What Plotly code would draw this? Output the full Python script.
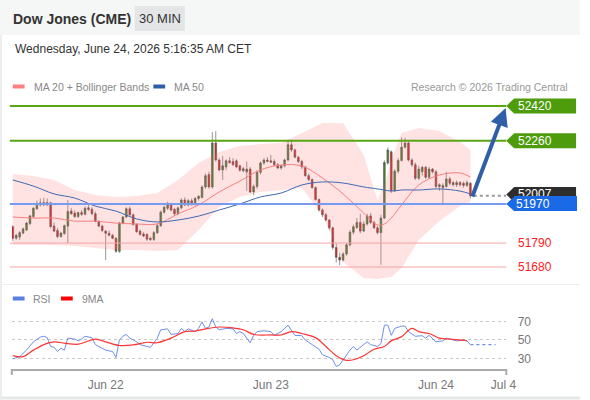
import plotly.graph_objects as go

W, H = 590, 400

# 30 min bars, index 0 = first bar on the left
opens = [51865, 51812, 51818, 51836, 51850, 51880, 51912, 51948, 51965, 51976,
         51966, 51975, 51868, 51848, 51820, 51834, 51868, 51938, 51928, 51912,
         51930, 51922, 51952, 51946, 51925, 51888, 51868, 51845, 51835, 51826,
         51812, 51752, 51882, 51910, 51948, 51920, 51876, 51845, 51832, 51830,
         51812, 51806, 51838, 51870, 51932, 51950, 51968, 51945, 51925, 51952,
         51988, 51965, 51985, 51968, 51995, 52000, 52048, 52105, 52048, 52250,
         52172, 52126, 52140, 52168, 52165, 52168, 52145, 52122, 52117, 52130,
         52025, 52050, 52115, 52158, 52172, 52168, 52165, 52150, 52135, 52145,
         52172, 52242, 52218, 52185, 52165, 52140, 52100, 52082, 52045, 51990,
         51942, 51920, 51896, 51860, 51770, 51725, 51712, 51740, 51782, 51840,
         51862, 51885, 51845, 51878, 51915, 51885, 51860, 51838, 51905, 52158,
         52210, 52030, 52120, 52170, 52230, 52250, 52172, 52150, 52088, 52118,
         52138, 52092, 52130, 52118, 52050, 52045, 52050, 52085, 52068, 52058,
         52068, 52065, 52055, 52065]
highs = [51872, 51832, 51845, 51862, 51888, 51920, 51956, 51985, 51995, 51998,
         51995, 51980, 51885, 51860, 51842, 51875, 51988, 51952, 51940, 51935,
         51942, 51958, 51968, 51955, 51935, 51895, 51875, 51850, 51848, 51832,
         51818, 51888, 51915, 51955, 51958, 51925, 51880, 51852, 51840, 51836,
         51820, 51845, 51880, 51940, 51962, 51980, 51975, 51952, 51958, 51995,
         52000, 51992, 51995, 52002, 52010, 52055, 52110, 52118, 52300, 52305,
         52180, 52190, 52175, 52185, 52180, 52175, 52150, 52140, 52165, 52140,
         52060, 52125, 52165, 52180, 52185, 52195, 52175, 52158, 52150, 52178,
         52262, 52265, 52225, 52190, 52172, 52145, 52110, 52088, 52050, 51995,
         51950, 51928, 51900, 51865, 51790, 51745, 51748, 51790, 51850, 51875,
         51905, 51925, 51890, 51925, 51928, 51892, 51868, 51920, 52170, 52230,
         52215, 52130, 52180, 52275, 52273, 52258, 52180, 52160, 52145, 52145,
         52145, 52140, 52135, 52125, 52065, 52065, 52118, 52095, 52075, 52078,
         52075, 52072, 52078, 52070]
lows = [51800, 51805, 51805, 51830, 51845, 51872, 51905, 51942, 51958, 51960,
        51960, 51858, 51840, 51812, 51815, 51828, 51790, 51920, 51905, 51905,
        51915, 51918, 51938, 51918, 51885, 51862, 51840, 51712, 51820, 51808,
        51745, 51745, 51876, 51905, 51915, 51870, 51838, 51825, 51818, 51800,
        51800, 51800, 51832, 51865, 51925, 51942, 51935, 51915, 51918, 51945,
        51960, 51958, 51962, 51962, 51985, 51995, 52040, 52040, 52040, 52165,
        52120, 52080, 52125, 52155, 52145, 52135, 52118, 52115, 52030, 52020,
        52010, 52040, 52105, 52150, 52160, 52160, 52145, 52130, 52128, 52138,
        52165, 52210, 52180, 52158, 52130, 52095, 52075, 52040, 51985, 51935,
        51910, 51890, 51850, 51760, 51700, 51688, 51705, 51732, 51775, 51830,
        51855, 51835, 51840, 51870, 51878, 51855, 51830, 51690, 51900, 52150,
        52020, 52025, 52110, 52165, 52225, 52165, 52140, 52080, 52080, 52100,
        52085, 52085, 52110, 52042, 52030, 51970, 52045, 52055, 52050, 52048,
        52050, 52045, 52048, 51995]
closes = [51812, 51826, 51838, 51855, 51882, 51915, 51950, 51972, 51975, 51966,
          51976, 51866, 51845, 51820, 51836, 51870, 51935, 51925, 51912, 51930,
          51922, 51950, 51945, 51925, 51890, 51868, 51848, 51835, 51826, 51812,
          51752, 51882, 51910, 51948, 51920, 51875, 51842, 51830, 51822, 51808,
          51806, 51838, 51870, 51932, 51955, 51970, 51942, 51925, 51952, 51988,
          51965, 51985, 51968, 51995, 52005, 52048, 52100, 52048, 52250, 52172,
          52126, 52145, 52168, 52160, 52150, 52140, 52125, 52132, 52130, 52025,
          52050, 52115, 52158, 52172, 52166, 52162, 52150, 52135, 52145, 52172,
          52242, 52218, 52185, 52165, 52140, 52100, 52082, 52045, 51990, 51942,
          51920, 51896, 51860, 51770, 51725, 51712, 51740, 51782, 51840, 51865,
          51885, 51845, 51878, 51915, 51885, 51860, 51838, 51905, 52160, 52218,
          52030, 52120, 52170, 52230, 52250, 52172, 52150, 52088, 52130, 52138,
          52092, 52130, 52118, 52050, 52058, 52055, 52085, 52065, 52058, 52068,
          52058, 52055, 52068, 52007]

# overlays at these bar indices
ma_idx = [0, 6, 12, 18, 24, 30, 36, 42, 48, 54, 60, 66, 72, 78, 84, 90, 96, 102,
          106, 108, 110, 113, 118, 124, 130, 133]
bb_upper = [52107, 52098, 52080, 52034, 52011, 52002, 52006, 52020, 52080, 52158,
            52209, 52236, 52245, 52250, 52296, 52342, 52342, 52195, 51988, 52057,
            52172, 52296, 52319, 52305, 52255, 52218]
bb_lower = [51781, 51781, 51781, 51777, 51767, 51758, 51758, 51754, 51758, 51850,
            51956, 52002, 52025, 52034, 52043, 51919, 51703, 51630, 51625, 51630,
            51634, 51675, 51804, 51891, 51960, 51979]
ma20 = [51910, 51905, 51905, 51891, 51891, 51882, 51878, 51878, 51924, 51965,
        52025, 52075, 52126, 52149, 52144, 52089, 52016, 51928, 51873, 51878,
        51905, 51965, 52057, 52103, 52112, 52094]
ma50 = [52080, 52052, 52016, 51997, 51960, 51937, 51901, 51887, 51896, 51914,
        51942, 51970, 52002, 52020, 52057, 52071, 52066, 52048, 52039, 52034,
        52029, 52034, 52034, 52039, 52029, 52016]

rsi_idx = [0, 2, 4, 6, 8, 9, 10, 11, 12, 13, 14, 15, 16, 18, 19, 20, 21, 23, 24, 26,
           27, 29, 30, 31, 32, 33, 34, 36, 37, 39, 40, 42, 43, 45, 46, 48, 49, 50, 51, 53,
           54, 55, 56, 57, 58, 59, 60, 62, 64, 65, 66, 67, 69, 70, 71, 73, 75, 76, 78, 80,
           81, 82, 84, 85, 87, 89, 90, 92, 93, 94, 95, 96, 98, 99, 100, 103, 104, 106, 107, 108,
           109, 110, 111, 113, 114, 115, 117, 119, 120, 121, 123, 125, 126, 128, 129, 131, 132, 133]
rsi = [29.6, 32, 39, 48, 53, 54, 52.5, 43, 42, 37.5, 41, 39, 52, 51, 49, 51, 54, 52.5, 45, 41,
       39, 37.5, 31, 50, 54, 56, 52, 48, 45, 43, 42, 52, 61, 62, 56, 57, 62.5, 59, 62, 59,
       62.5, 69.6, 62.5, 64, 73, 64, 61, 62.5, 62, 57, 59, 57, 47, 55, 59, 60, 59, 55, 59, 66,
       61, 55, 54.6, 50, 45, 40, 34, 31, 28.6, 21.4, 23, 28.6, 39, 43, 39, 48, 45, 43, 46, 66,
       66, 55, 62.5, 65, 65, 59, 54, 54.6, 52, 55, 48, 49, 52, 50, 49, 50, 49, 45]
ma9_idx = [0, 3, 6, 9, 12, 15, 19, 21, 24, 27, 31, 35, 39, 42, 46, 50, 53, 56, 60, 64,
           67, 70, 75, 78, 81, 84, 88, 91, 94, 97, 99, 102, 105, 108, 110, 113, 116, 118,
           121, 124, 127, 132]
rsi_ma9 = [33, 32, 39, 45, 48, 46.5, 45.4, 47.5, 51, 48, 44, 44.6, 47.5, 47, 52, 59, 59.6,
           62, 64, 63, 61, 56, 55.4, 55.4, 59, 57, 52.5, 43, 33, 28, 28.6, 33, 40, 43, 49,
           53.6, 62.5, 59, 57, 52, 51, 49.3]

resistances = [52420, 52260]
pivot = 51970
supports = [51790, 51680]
last_price = 52007
target = 52420

tick_pos = [27, 75, 123, 142.6]
tick_text = ["Jun 22", "Jun 23", "Jun 24", "Jul 4"]

FONT = "Liberation Sans, Arial, sans-serif"


def fx(px):
    return px / W


def fy(py):
    return 1 - py / H


# pixel layout of the price panel
PX_PT = 0.2176                      # pixels per index point
P_TOP = 52420 + (106 - 95) / PX_PT
P_BOT = 52420 - (282 - 106) / PX_PT
X0 = (12 - 13) / 3.5
X1 = (515 - 13) / 3.5
n = len(closes)
bars = list(range(n))

fig = go.Figure()

# bollinger band fill
fig.add_trace(go.Scatter(x=ma_idx, y=bb_upper, mode="lines", line=dict(width=0),
                         hoverinfo="skip", xaxis="x", yaxis="y"))
fig.add_trace(go.Scatter(x=ma_idx, y=bb_lower, mode="lines", line=dict(width=0),
                         fill="tonexty", fillcolor="rgba(255,110,110,0.2)",
                         hoverinfo="skip", xaxis="x", yaxis="y"))
fig.add_trace(go.Scatter(x=ma_idx, y=ma20, mode="lines",
                         line=dict(color="#f57f7f", width=1, shape="spline"),
                         xaxis="x", yaxis="y"))
fig.add_trace(go.Scatter(x=ma_idx, y=ma50, mode="lines",
                         line=dict(color="#3f68b2", width=1, shape="spline"),
                         xaxis="x", yaxis="y"))

fig.add_trace(go.Candlestick(
    x=bars, open=opens, high=highs, low=lows, close=closes,
    increasing=dict(line=dict(color="#505050", width=0.6), fillcolor="#3a8c27"),
    decreasing=dict(line=dict(color="#505050", width=0.6), fillcolor="#e2231e"),
    whiskerwidth=0, xaxis="x", yaxis="y"))

# RSI panel
fig.add_trace(go.Scatter(x=rsi_idx, y=rsi, mode="lines",
                         line=dict(color="#6f8ee6", width=1), xaxis="x2", yaxis="y2"))
fig.add_trace(go.Scatter(x=[rsi_idx[-1], 140.3], y=[rsi[-1], rsi[-1]], mode="lines",
                         line=dict(color="#6f8ee6", width=1.2, dash="dot"),
                         xaxis="x2", yaxis="y2"))
fig.add_trace(go.Scatter(x=ma9_idx, y=rsi_ma9, mode="lines",
                         line=dict(color="#ff3535", width=1.2, shape="spline"),
                         xaxis="x2", yaxis="y2"))

shapes = []
annotations = []

# header
shapes.append(dict(type="rect", xref="paper", yref="paper", x0=0, x1=1, y0=fy(35), y1=1,
                   fillcolor="#f5f6f6", line=dict(width=0), layer="below"))
shapes.append(dict(type="rect", xref="paper", yref="paper", x0=fx(137), x1=fx(188),
                   y0=fy(31), y1=fy(6), fillcolor="#e3e5e7", line=dict(width=0), layer="below"))
annotations.append(dict(text="<b>Dow Jones (CME)</b>", x=fx(11), y=fy(19), xref="paper", yref="paper",
                        xanchor="left", yanchor="middle", showarrow=False,
                        font=dict(size=14, color="#333", family=FONT)))
annotations.append(dict(text="30 MIN", x=fx(162.5), y=fy(19), xref="paper", yref="paper",
                        xanchor="center", yanchor="middle", showarrow=False,
                        font=dict(size=13, color="#333", family=FONT)))
annotations.append(dict(text="Wednesday, June 24, 2026 5:16:35 AM CET", x=fx(13), y=fy(49),
                        xref="paper", yref="paper", xanchor="left", yanchor="middle",
                        showarrow=False, font=dict(size=12, color="#333", family=FONT)))

# panel borders
shapes.append(dict(type="line", xref="paper", yref="paper", x0=0, x1=1, y0=fy(284.5), y1=fy(284.5),
                   line=dict(color="#eeeeee", width=1)))
shapes.append(dict(type="line", xref="paper", yref="paper", x0=0, x1=1, y0=fy(398), y1=fy(398),
                   line=dict(color="#e6e8e8", width=3)))
shapes.append(dict(type="line", xref="paper", yref="paper", x0=fx(1), x1=fx(1), y0=0, y1=fy(35),
                   line=dict(color="#eceeee", width=2)))

# legend of the price panel
shapes.append(dict(type="rect", xref="paper", yref="paper", x0=fx(13), x1=fx(25),
                   y0=fy(88.5), y1=fy(84.5), fillcolor="#ff8080", line=dict(width=0)))
annotations.append(dict(text="MA 20 + Bollinger Bands", x=fx(33), y=fy(86.5), xref="paper", yref="paper",
                        xanchor="left", yanchor="middle", showarrow=False,
                        font=dict(size=10.5, color="#888", family=FONT)))
shapes.append(dict(type="rect", xref="paper", yref="paper", x0=fx(156), x1=fx(168),
                   y0=fy(88.5), y1=fy(84.5), fillcolor="#2f5ea8", line=dict(width=0)))
annotations.append(dict(text="MA 50", x=fx(175), y=fy(86.5), xref="paper", yref="paper",
                        xanchor="left", yanchor="middle", showarrow=False,
                        font=dict(size=10.5, color="#888", family=FONT)))
annotations.append(dict(text="Research \u00a9 2026 Trading Central", x=fx(580), y=fy(86.5),
                        xref="paper", yref="paper", xanchor="right", yanchor="middle",
                        showarrow=False, font=dict(size=10.5, color="#999", family=FONT)))

# legend of the RSI panel
shapes.append(dict(type="rect", xref="paper", yref="paper", x0=fx(13), x1=fx(25),
                   y0=fy(300.5), y1=fy(296.5), fillcolor="#5b7fe3", line=dict(width=0)))
annotations.append(dict(text="RSI", x=fx(32), y=fy(298.5), xref="paper", yref="paper",
                        xanchor="left", yanchor="middle", showarrow=False,
                        font=dict(size=10.5, color="#888", family=FONT)))
shapes.append(dict(type="rect", xref="paper", yref="paper", x0=fx(62), x1=fx(74),
                   y0=fy(300.5), y1=fy(296.5), fillcolor="#ff0000", line=dict(width=0)))
annotations.append(dict(text="9MA", x=fx(81), y=fy(298.5), xref="paper", yref="paper",
                        xanchor="left", yanchor="middle", showarrow=False,
                        font=dict(size=10.5, color="#888", family=FONT)))

# key levels
HALF = 7.5 / PX_PT


def tag(price, color, layer="above"):
    path = (f"M {fx(515)},{price} L {fx(523)},{price + HALF} L {fx(586)},{price + HALF} "
            f"L {fx(586)},{price - HALF} L {fx(523)},{price - HALF} Z")
    return dict(type="path", path=path, xref="paper", yref="y", fillcolor=color,
                line=dict(width=0), layer=layer)


for lvl in resistances:
    shapes.append(dict(type="line", xref="paper", yref="y", x0=fx(10), x1=fx(515), y0=lvl, y1=lvl,
                       line=dict(color="#5aa512", width=2), layer="above"))
    shapes.append(tag(lvl, "#4e9c0c"))
    annotations.append(dict(text=str(lvl), x=fx(525), y=lvl, xref="paper", yref="y",
                            xanchor="left", yanchor="middle", showarrow=False,
                            font=dict(size=12, color="white", family=FONT)))

for lvl in supports:
    shapes.append(dict(type="line", xref="paper", yref="y", x0=fx(10), x1=fx(515), y0=lvl, y1=lvl,
                       line=dict(color="#f7a3a3", width=1), layer="above"))
    annotations.append(dict(text=str(lvl), x=fx(525), y=lvl, xref="paper", yref="y",
                            xanchor="left", yanchor="middle", showarrow=False,
                            font=dict(size=12, color="#ff2020", family=FONT)))

# last price: dotted line and dark tag, half covered by the pivot tag
shapes.append(dict(type="line", xref="x", yref="y", x0=n, x1=X1, y0=last_price, y1=last_price,
                   line=dict(color="#9a9a9a", width=2, dash="dot")))
shapes.append(tag(last_price + 6, "#2e2e2e"))
annotations.append(dict(text=str(last_price), x=fx(525), y=last_price + 10, xref="paper", yref="y",
                        xanchor="left", yanchor="middle", showarrow=False,
                        font=dict(size=12, color="white", family=FONT)))
shapes.append(dict(type="line", xref="paper", yref="y", x0=fx(10), x1=fx(515), y0=pivot, y1=pivot,
                   line=dict(color="#789bf0", width=2), layer="above"))
# pivot tag: pointed tip as a shape, body as a filled annotation box drawn over the last price
shapes.append(dict(type="path", xref="paper", yref="y", fillcolor="#1a6ae8", line=dict(width=0),
                   path=(f"M {fx(515)},{pivot} L {fx(523.5)},{pivot + HALF} "
                         f"L {fx(523.5)},{pivot - HALF} Z")))
annotations.append(dict(text=str(pivot), x=fx(523), y=pivot, xref="paper", yref="y",
                        xanchor="left", yanchor="middle", showarrow=False,
                        width=59, height=11, align="left", borderpad=2,
                        bgcolor="#1a6ae8", borderwidth=0,
                        font=dict(size=12, color="white", family=FONT)))

# projection arrow
annotations.append(dict(x=X1 - 0.2, y=target - 9, xref="x", yref="y",
                        ax=n - 0.6, ay=last_price - 10, axref="x", ayref="y",
                        text="", showarrow=True, arrowhead=2, arrowsize=0.9,
                        arrowwidth=4, arrowcolor="#2f5fa8", standoff=0))

# RSI axis end ticks
for xp in (12, 515):
    shapes.append(dict(type="line", xref="paper", yref="paper", x0=fx(xp), x1=fx(xp),
                       y0=fy(369), y1=fy(375), line=dict(color="#aaaaaa", width=2)))

fig.update_layout(
    width=W, height=H, autosize=False,
    margin=dict(l=0, r=0, t=0, b=0),
    paper_bgcolor="white", plot_bgcolor="rgba(0,0,0,0)",
    showlegend=False,
    font=dict(family=FONT),
    shapes=shapes, annotations=annotations,
    xaxis=dict(domain=[fx(12), fx(515)], range=[X0, X1], visible=False,
               rangeslider=dict(visible=False)),
    yaxis=dict(domain=[fy(282), fy(95)], range=[P_BOT, P_TOP], visible=False),
    xaxis2=dict(domain=[fx(12), fx(515)], range=[X0, X1], anchor="y2",
                showline=True, linecolor="#aaaaaa", linewidth=2, showgrid=False,
                zeroline=False, tickmode="array", tickvals=tick_pos, ticktext=tick_text,
                ticks="outside", ticklen=4, tickcolor="rgba(0,0,0,0)",
                tickfont=dict(size=12, color="#777", family=FONT)),
    yaxis2=dict(domain=[fy(369), fy(305)], range=[18.6, 87.8], anchor="x2", side="right",
                tickmode="array", tickvals=[30, 50, 70], showgrid=True, gridcolor="#c8c8c8",
                griddash="dot", gridwidth=1, zeroline=False, showline=False,
                ticks="outside", ticklen=8, tickcolor="rgba(0,0,0,0)",
                tickfont=dict(size=12, color="#777", family=FONT)),
)

# drop the default 8px page margin and the scrollbar it causes
page_fix = ("document.documentElement.style.overflow='hidden';"
            "document.body.style.margin='0px';"
            "document.body.style.overflow='hidden';")
fig.write_html("out.html",
               config={"displayModeBar": False, "responsive": False},
               post_script=page_fix)
